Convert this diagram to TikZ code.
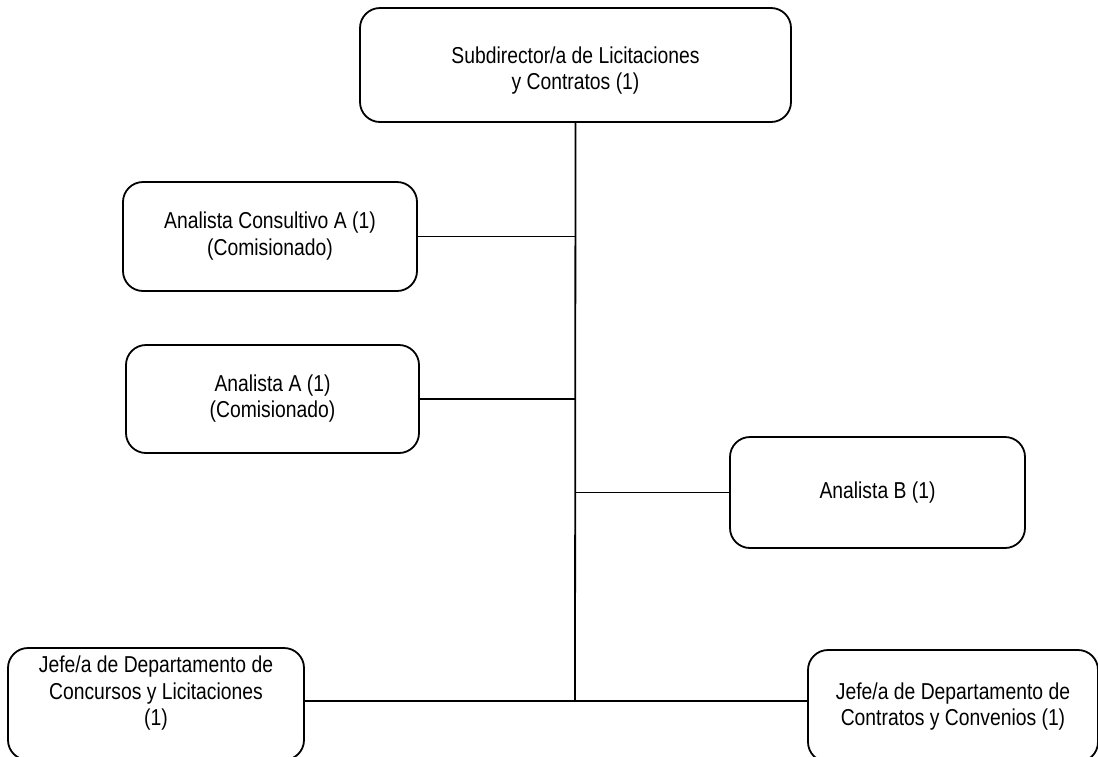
\documentclass[tikz,border=0pt]{standalone}
\usepackage{fontspec}
\setmainfont{Liberation Sans}[FakeStretch=0.84]
\newcommand{\boxlines}[1]{\begin{tabular}{@{}c@{}}#1\end{tabular}}
% text block moved up (+) or down (-) inside its box, without changing the box
\newcommand{\liftlines}[2]{\raisebox{#1}[0pt][0pt]{\boxlines{#2}}}
\begin{document}
\begin{tikzpicture}[x=1pt,y=-1pt,
  orgbox/.style={draw,line width=1.8pt,rounded corners=20pt,align=center,
    font=\fontsize{23}{26.5}\selectfont,inner sep=0pt},
  link/.style={line width=1.8pt}]
\useasboundingbox (0,0) rectangle (1098,756);
\node[orgbox,minimum width=431pt,minimum height=114pt] (sub) at (575.5,65)
  {\liftlines{-12.5pt}{Subdirector/a de Licitaciones\\y Contratos (1)}};
\node[orgbox,minimum width=294pt,minimum height=109pt] (aca) at (270,236.5)
  {\boxlines{Analista Consultivo A (1)\\(Comisionado)}};
\node[orgbox,minimum width=293pt,minimum height=108pt] (aa) at (272.5,399)
  {\boxlines{Analista A (1)\\(Comisionado)}};
\node[orgbox,minimum width=295pt,minimum height=111pt] (ab) at (877.5,492.5)
  {Analista B (1)};
\node[orgbox,minimum width=296pt,minimum height=112pt] (jl) at (156,704)
  {\liftlines{4pt}{Jefe/a de Departamento de\\Concursos y Licitaciones\\(1)}};
\node[orgbox,minimum width=290pt,minimum height=112pt] (jr) at (953,706)
  {\liftlines{-7.5pt}{Jefe/a de Departamento de\\Contratos y Convenios (1)}};
\coordinate (j) at (575,701);
\draw[link] (sub.south) -- (j);
\draw[link] (jl.east |- j) -- (jr.west |- j);
\draw[link] (aca.east) -- (aca.east -| j);
\draw[link] (aa.east) -- (aa.east -| j);
\draw[link] (ab.west) -- (ab.west -| j);
\end{tikzpicture}
\end{document}
